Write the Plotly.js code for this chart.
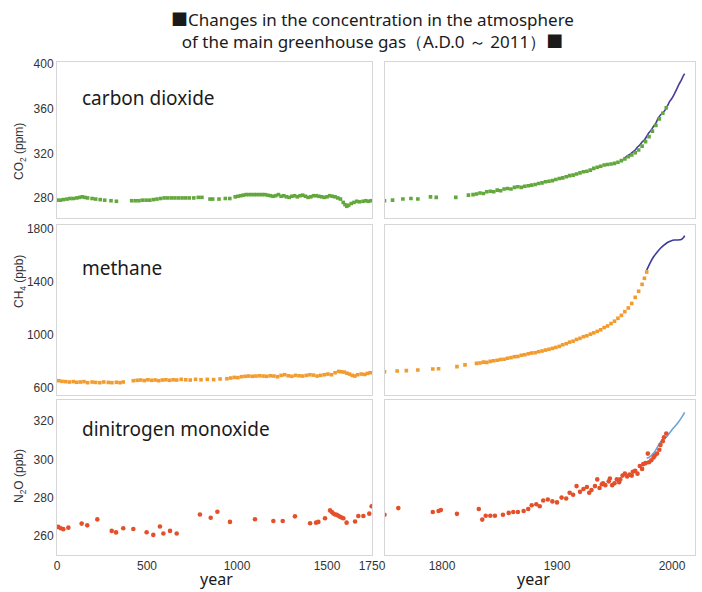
<!DOCTYPE html>
<html>
<head>
<meta charset="utf-8">
<script src="https://cdn.plot.ly/plotly-3.0.1.min.js"></script>
<style>html,body{margin:0;padding:0;background:#fff;}#chart{width:702px;height:592px;}</style>
</head>
<body>
<div id="chart"></div>
<script>
// ---------------- DATA ----------------
// CO2 (ppm), ice core, A.D. 0 - 1750
const co2EarlyYears = [0,18,35,55,72,90,110,125,140,155,170,195,215,240,265,300,330,
  415,435,455,475,495,515,535,555,575,595,615,635,655,675,695,715,735,760,785,805,
  850,865,900,935,960,
  990,1005,1020,1035,1050,1065,1080,1095,1110,1125,1140,1155,1170,1185,1200,1215,1230,1245,1260,1275,1290,1305,1320,1335,1350,1365,1380,1395,1410,1425,1440,1455,1470,1485,1500,1515,1530,1545,1560,1575,1590,1600,1610,1620,1635,1650,1665,1680,1700,1715,1730,1745];
const co2EarlyPpm = [278,278,278.5,279,279.5,279.5,280,280.5,281,280.5,280,279.5,279,278.5,278,277.5,277,
  277.5,277.5,277.5,278,278,278,278.5,279,279.5,280,280,280,280,280,280,280,280,280,280.5,280.5,
  279,279,279,279.5,279.5,
  281,281.5,282,282.5,283,283,283,283,283,283,283,283,282.5,282,281.5,282,283,281.5,282,281,280.5,281.5,282,281,282,282.5,281.5,280.5,281,282,282,281.5,281,280.5,281,282,281.5,281,280,279,276,274,272.5,273.5,275,276,277,276.5,277,277.5,277,277.5];
// CO2 (ppm), ice core, 1750 - 1995
const co2LateYears = [1750,1757,1766,1773,1779,1790,1795,1812,1823,1827,1830,1833,1836,1839,1842,1845,1848,1851,1854,1857,1860,1863,1866,1869,1872,1875,1878,1881,1884,1887,1890,1893,1896,1899,1902,1905,1908,1911,1914,1917,1920,1923,1926,1929,1932,1935,1938,1941,1944,1947,1950,1953,1956,1959,1962,1965,1968,1971,1974,1977,1980,1983,1986,1989,1992,1995];
const co2LatePpm = [277.5,278,279,279.5,279,281,280.5,280.5,282.5,283,283.5,284.5,284,285.5,286,285.5,287,286.5,288,288.5,288,289.5,290,289.5,290.5,291,291.5,292,293,293.5,294.5,295,295.5,296.5,297.5,298,299,300,300.5,301.5,302.5,303.5,304,305,306.5,307.5,308.5,309.5,310,310.5,311,312,313.5,315,317,318.5,320.5,323,326.5,330.5,335,340,345,351,356,361];
// CO2 (ppm), direct atmospheric measurements
const co2InstYears = [1958,1960,1962,1964,1966,1968,1970,1972,1974,1976,1978,1980,1982,1984,1986,1988,1990,1992,1994,1996,1998,2000,2002,2004,2006,2008,2010,2011];
const co2InstPpm = [315.3,316.9,318.4,319.6,321.4,323.0,325.7,327.5,330.2,332.0,335.4,338.7,341.1,344.4,347.2,351.6,354.4,356.5,358.8,362.6,366.7,369.5,373.2,377.5,381.9,385.6,389.9,391.6];

// CH4 (ppb), ice core, A.D. 0 - 1750
const ch4EarlyYears = [10,28,48,68,90,110,130,150,170,195,215,238,260,285,305,330,350,368,
  424,445,465,485,505,525,545,565,585,605,625,645,665,690,715,740,770,800,835,870,906,
  944,965,985,1005,1025,1045,1065,1085,1105,1125,1145,1165,1185,1205,1225,1245,1265,1285,1305,1325,1345,1365,1385,1405,1425,1445,1465,1485,1505,1525,1545,1565,1580,1595,1610,1625,1640,1655,1670,1690,1710,1725,1740];
const ch4EarlyPpb = [655,650,648,645,648,643,645,648,640,645,642,640,645,642,640,643,640,645,
  655,658,660,656,662,658,660,655,660,662,658,662,660,665,662,660,665,662,665,663,668,
  670,675,680,678,685,688,690,688,690,692,690,688,692,690,685,695,700,692,688,695,692,690,695,700,697,690,695,700,705,700,715,725,722,720,712,705,695,690,700,705,702,710,715];
// CH4 (ppb), ice core, 1750 - 1978
const ch4LateYears = [1750,1761,1769,1779,1792,1797,1813,1820,1830,1833,1836,1839,1842,1845,1848,1851,1854,1857,1860,1863,1866,1869,1872,1875,1878,1881,1884,1887,1890,1893,1896,1899,1902,1905,1908,1911,1914,1917,1920,1923,1926,1929,1932,1935,1938,1941,1944,1947,1950,1953,1956,1959,1962,1965,1968,1971,1974,1976,1978];
const ch4LatePpb = [723,728,731,736,743,745,761,774,786,789,795,793,801,806,809,815,817,824,829,836,838,847,851,858,864,866,874,879,886,892,899,906,914,926,934,946,953,966,975,987,994,1006,1016,1027,1039,1056,1068,1086,1104,1126,1148,1176,1204,1238,1284,1330,1382,1428,1475];
// CH4 (ppb), direct atmospheric measurements
const ch4InstYears = [1978,1981,1984,1987,1990,1993,1996,1999,2002,2005,2008,2010,2011];
const ch4InstPpb = [1490,1545,1590,1625,1655,1678,1698,1710,1717,1717,1720,1735,1750];

// N2O (ppb), ice core, A.D. 0 - 1750
const n2oEarlyYears = [7,20,35,63,137,168,224,304,328,368,424,498,535,572,591,628,665,794,854,891,961,1100,1202,1254,1322,1406,1439,1452,1489,1517,1527,1535,1545,1554,1563,1572,1581,1591,1609,1656,1674,1702,1735,1748];
const n2oEarlyPpb = [264.7,264,263.5,264.3,266.4,265.5,268.6,262.6,261.8,264,263.6,261.9,260.5,264.9,261.2,262.6,261.2,271.2,269.5,272.6,267.3,268.7,267.8,267.8,270.2,266.6,266.9,267.3,269.2,273.3,272.5,271.7,271.2,271,270.5,270,269.6,269.2,266.9,267.5,270.4,270.4,271.6,275.5];
// N2O (ppb), ice core, 1750 - 1995
const n2oLateYears = [1750,1762,1792,1797,1799,1813,1832,1835,1838,1842,1846,1853,1858,1862,1866,1871,1875,1878,1882,1885,1888,1892,1896,1900,1904,1908,1911,1914,1917,1920,1923,1926,1928,1930,1933,1935,1937,1939,1940,1942,1945,1946,1948,1950,1952,1954,1955,1957,1959,1961,1963,1965,1966,1968,1970,1972,1974,1975,1977,1979,1980,1982,1984,1985,1987,1989,1990,1992,1993,1995];
const n2oLatePpb = [271,274.5,272.5,273,273.5,271.5,274,268.5,270.5,270.5,270.5,271,272,272.5,272.5,273,274,276,276.5,275.5,278.5,279,278,277.5,280,279.5,282.5,281.5,286,283,284.5,285.5,282.5,284,286,289.5,285,287,287.5,286.5,288.5,290,286.5,287.5,289.5,288,289.5,291.5,292.5,291,292,291.5,293.5,294,292.5,296.5,295,297.5,298,303,298.5,299.5,301,302,303,305,307.5,309.5,311.5,313.5];
// N2O (ppb), direct atmospheric measurements
const n2oInstYears = [1978,1980,1985,1990,1995,2000,2005,2008,2011];
const n2oInstPpb = [300.5,301,304,309,311.5,315.5,319,321.5,324.5];

// Labels
const squareMark = "■";
const titleLine1 = "Changes in the concentration in the atmosphere";
const titleLine2 = "of the main greenhouse gas（A.D.0 ～ 2011）";
const gasNames = ["carbon dioxide", "methane", "dinitrogen monoxide"];
const yTitles = ["CO<sub>2</sub> (ppm)", "CH<sub>4</sub> (ppb)", "N<sub>2</sub>O (ppb)"];
const leftTicks = [0, 500, 1000, 1500, 1750];
const rightTicks = [1800, 1900, 2000];
const co2Ticks = [280, 320, 360, 400];
const ch4Ticks = [600, 1000, 1400, 1800];
const n2oTicks = [260, 280, 300, 320];
const xTitle = "year";

// ---------------- STYLE ----------------
const W = 702, H = 592;
const px = v => v / W;
const py = v => 1 - v / H;
const cGreen = '#62a83c', cOrange = '#f29b2e', cRed = '#e4502a';
const cLineCO2 = '#4a3c98', cLineCH4 = '#3b3b9e', cLineN2O = '#6ea3d8';
const tickFont = {family: 'Liberation Sans, Arial, sans-serif', size: 12, color: '#333'};
const textFont = {family: 'Noto Sans, Open Sans, sans-serif', color: '#1a1a1a'};
const frameColor = '#d6d6d6';

function pts(x, y, xa, ya, color, size, symbol) {
  return {x: x, y: y, xaxis: xa, yaxis: ya, type: 'scatter', mode: 'markers',
    marker: {color: color, size: size, symbol: symbol}, hoverinfo: 'x+y', showlegend: false};
}
function line(x, y, xa, ya, color) {
  return {x: x, y: y, xaxis: xa, yaxis: ya, type: 'scatter', mode: 'lines',
    line: {color: color, width: 1.6, shape: 'spline', smoothing: 0.6}, hoverinfo: 'x+y', showlegend: false};
}

const traces = [
  pts(co2EarlyYears, co2EarlyPpm, 'x', 'y', cGreen, 3.6, 'square'),
  line(co2InstYears, co2InstPpm, 'x2', 'y2', cLineCO2),
  pts(co2LateYears, co2LatePpm, 'x2', 'y2', cGreen, 3.6, 'square'),
  pts(ch4EarlyYears, ch4EarlyPpb, 'x3', 'y3', cOrange, 3.6, 'square'),
  line(ch4InstYears, ch4InstPpb, 'x4', 'y4', cLineCH4),
  pts(ch4LateYears, ch4LatePpb, 'x4', 'y4', cOrange, 3.6, 'square'),
  pts(n2oEarlyYears, n2oEarlyPpb, 'x5', 'y5', cRed, 4.6, 'circle'),
  line(n2oInstYears, n2oInstPpb, 'x6', 'y6', cLineN2O),
  pts(n2oLateYears, n2oLatePpb, 'x6', 'y6', cRed, 4.6, 'circle')
];

const xLeftDom = [px(57), px(372)];
const xRightDom = [px(384.5), px(695)];
const rowDom = [[py(218), py(62)], [py(395), py(225)], [py(555), py(400)]];
const yRanges = [[262, 402], [547, 1830], [250, 331]];
const yTicks = [co2Ticks, ch4Ticks, n2oTicks];

function idx(side, row) { const n = row * 2 + (side === 'L' ? 1 : 2); return n === 1 ? '' : String(n); }
function xAx(side, row) {
  const left = side === 'L';
  return {
    domain: left ? xLeftDom : xRightDom,
    range: left ? [0, 1750] : [1750, 2020],
    anchor: 'y' + idx(side, row),
    tickmode: 'array', tickvals: left ? leftTicks : rightTicks,
    showticklabels: row === 2, tickfont: tickFont, ticks: '',
    showgrid: false, zeroline: false, showline: true, mirror: true,
    linecolor: frameColor, linewidth: 1, automargin: false, fixedrange: true
  };
}
function yAx(side, row) {
  const left = side === 'L';
  return {
    domain: rowDom[row], range: yRanges[row],
    anchor: 'x' + idx(side, row),
    tickmode: 'array', tickvals: yTicks[row],
    showticklabels: left, tickfont: tickFont, ticks: '',
    showgrid: false, zeroline: false, showline: true, mirror: true,
    linecolor: frameColor, linewidth: 1, automargin: false, fixedrange: true
  };
}

const sq = '<span style="font-family:\'Noto Sans CJK JP\'">' + squareMark + '</span>';
const big = s => Object.assign({}, textFont, {size: s});

const layout = {
  width: W, height: H,
  margin: {l: 0, r: 0, t: 0, b: 0},
  paper_bgcolor: '#ffffff', plot_bgcolor: '#ffffff',
  xaxis: xAx('L', 0), xaxis2: xAx('R', 0),
  xaxis3: xAx('L', 1), xaxis4: xAx('R', 1),
  xaxis5: xAx('L', 2), xaxis6: xAx('R', 2),
  yaxis: yAx('L', 0), yaxis2: yAx('R', 0),
  yaxis3: yAx('L', 1), yaxis4: yAx('R', 1),
  yaxis5: yAx('L', 2), yaxis6: yAx('R', 2),
  annotations: [
    {text: sq + titleLine1 + '<br>' + titleLine2 + sq, xref: 'paper', yref: 'paper', x: px(372), y: py(29),
      xanchor: 'center', yanchor: 'middle', align: 'center', showarrow: false, font: big(17)},
    {text: gasNames[0], xref: 'paper', yref: 'paper', x: px(80), y: py(98), xanchor: 'left', yanchor: 'middle', showarrow: false, bgcolor: '#ffffff', font: big(19)},
    {text: gasNames[1], xref: 'paper', yref: 'paper', x: px(80), y: py(268), xanchor: 'left', yanchor: 'middle', showarrow: false, bgcolor: '#ffffff', font: big(19)},
    {text: gasNames[2], xref: 'paper', yref: 'paper', x: px(80), y: py(429), xanchor: 'left', yanchor: 'middle', showarrow: false, bgcolor: '#ffffff', font: big(19)},
    {text: yTitles[0], xref: 'paper', yref: 'paper', x: px(20), y: py(152), textangle: -90, xanchor: 'center', yanchor: 'middle', showarrow: false, font: tickFont},
    {text: yTitles[1], xref: 'paper', yref: 'paper', x: px(20), y: py(282), textangle: -90, xanchor: 'center', yanchor: 'middle', showarrow: false, font: tickFont},
    {text: yTitles[2], xref: 'paper', yref: 'paper', x: px(20), y: py(476), textangle: -90, xanchor: 'center', yanchor: 'middle', showarrow: false, font: tickFont},
    {text: xTitle, xref: 'paper', yref: 'paper', x: px(216), y: py(579), xanchor: 'center', yanchor: 'middle', showarrow: false, font: big(16)},
    {text: xTitle, xref: 'paper', yref: 'paper', x: px(533), y: py(579), xanchor: 'center', yanchor: 'middle', showarrow: false, font: big(16)}
  ]
};

Plotly.newPlot('chart', traces, layout, {displayModeBar: false, staticPlot: true});
</script>
</body>
</html>
